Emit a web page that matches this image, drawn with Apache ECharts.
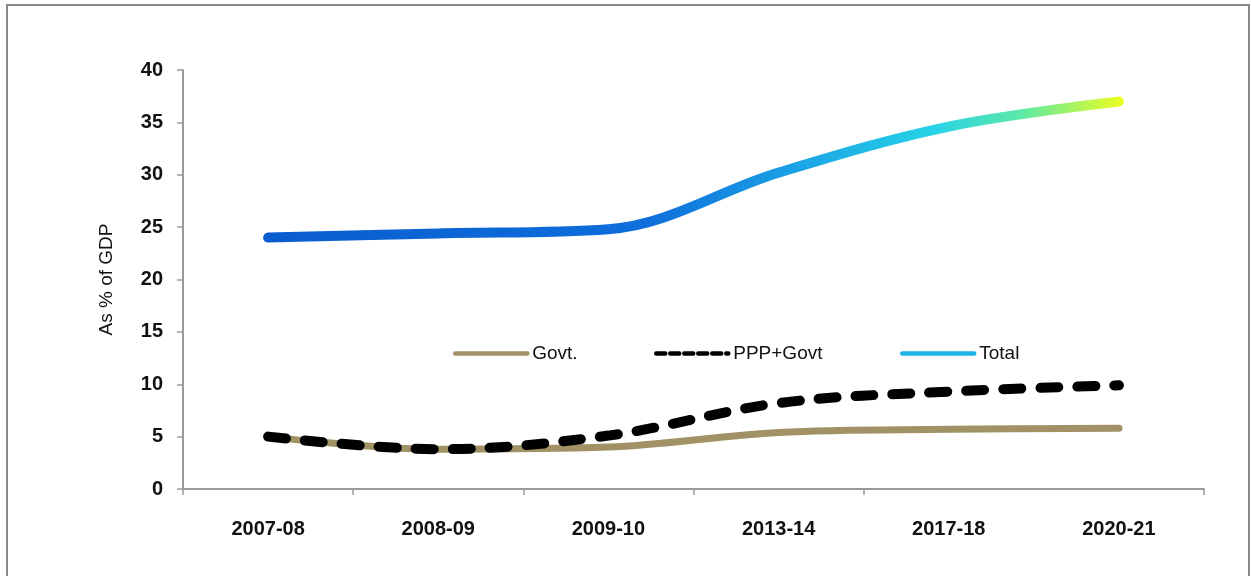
<!DOCTYPE html>
<html>
<head>
<meta charset="utf-8">
<script src="https://cdn.jsdelivr.net/npm/echarts@6/dist/echarts.min.js"></script>
<style>
html,body{margin:0;padding:0;background:#fff;}
#chart{width:1251px;height:576px;}
</style>
</head>
<body>
<div id="chart"></div>
<script>
const categories = ['2007-08', '2008-09', '2009-10', '2013-14', '2017-18', '2020-21'];
const govt = [5.0, 3.8, 4.0, 5.4, 5.7, 5.8];
const pppGovt = [5.0, 3.8, 5.1, 8.2, 9.3, 9.9];
const total = [24.0, 24.4, 24.8, 30.2, 34.6, 37.0];
const yTicks = [0, 5, 10, 15, 20, 25, 30, 35, 40];

const chart = echarts.init(document.getElementById('chart'), null, {renderer: 'canvas'});
const fontFam = '"Liberation Sans", Arial, sans-serif';

const totalGradient = new echarts.graphic.LinearGradient(0, 0, 1, 0, [
  {offset: 0, color: '#0a5ccf'},
  {offset: 0.45, color: '#0e6fdc'},
  {offset: 0.62, color: '#1ba3e6'},
  {offset: 0.78, color: '#27d3e6'},
  {offset: 0.88, color: '#5ce8a8'},
  {offset: 1, color: '#eeff1e'}
]);

function legendAt(left, name, ls) {
  return {
    left: left, top: 344, padding: 0, itemWidth: 72, itemHeight: 22, itemGap: 0,
    textStyle: {fontFamily: fontFam, fontSize: 19, color: '#111', padding: [0, 0, 0, 0]},
    data: [{name: name, lineStyle: ls, itemStyle: {opacity: 0}}]
  };
}

chart.setOption({
  animation: false,
  backgroundColor: '#fff',
  grid: {left: 183, right: 47, top: 70, bottom: 87},
  graphic: [{
    type: 'rect',
    shape: {x: 7, y: 5, width: 1242, height: 580},
    style: {fill: 'none', stroke: '#8a8a8a', lineWidth: 2},
    silent: true
  }],
  legend: [
    legendAt(453, 'Govt.', {width: 4.5, color: '#a09264', type: 'solid'}),
    legendAt(654, 'PPP+Govt', {width: 4.5, color: '#000', type: [9, 5]}),
    legendAt(900, 'Total', {width: 4.5, color: '#1eb4e6', type: 'solid'})
  ],
  xAxis: {
    type: 'category',
    data: categories,
    boundaryGap: true,
    axisLine: {lineStyle: {color: '#9a9a9a', width: 2}},
    axisTick: {show: true, length: 6, interval: function (i) { return i !== 5; }, lineStyle: {color: '#9a9a9a', width: 1.5}},
    axisLabel: {margin: 30, fontFamily: fontFam, fontWeight: 'bold', fontSize: 20, color: '#111'}
  },
  yAxis: {
    type: 'value',
    min: yTicks[0], max: yTicks[yTicks.length - 1], interval: 5,
    name: 'As % of GDP',
    nameLocation: 'middle',
    nameGap: 67,
    nameTextStyle: {fontFamily: fontFam, fontSize: 19, color: '#111'},
    splitLine: {show: false},
    axisLine: {show: true, lineStyle: {color: '#9a9a9a', width: 2}},
    axisTick: {show: true, length: 6, lineStyle: {color: '#9a9a9a', width: 1.5}},
    axisLabel: {margin: 20, fontFamily: fontFam, fontWeight: 'bold', fontSize: 20, color: '#111'}
  },
  series: [
    {
      name: 'Govt.', type: 'line', data: govt, smooth: 0.35, symbol: 'none',
      lineStyle: {color: '#a09264', width: 7, cap: 'round'}, itemStyle: {color: '#a09264'}, z: 2
    },
    {
      name: 'PPP+Govt', type: 'line', data: pppGovt, smooth: 0.35, symbol: 'none',
      lineStyle: {color: '#000', width: 10, type: [18, 19], cap: 'round'}, itemStyle: {color: '#000'}, z: 3
    },
    {
      name: 'Total', type: 'line', data: total, smooth: 0.35, symbol: 'none',
      lineStyle: {color: totalGradient, width: 10, cap: 'round'}, itemStyle: {color: '#1eb4e6'}, z: 4
    }
  ]
});
</script>
</body>
</html>
